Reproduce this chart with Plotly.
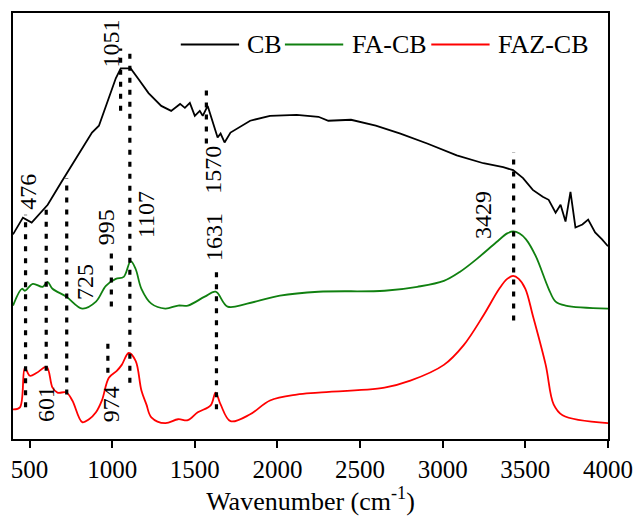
import plotly.graph_objects as go

# ---------------- data (wavenumber, relative intensity) ----------------
cb_x = [400, 460, 513, 610, 693, 726, 800, 878, 920, 980, 1022, 1052, 1112, 1160, 1220,
        1297, 1357, 1411, 1440, 1470, 1500, 1530, 1548, 1578, 1596, 1638, 1656, 1680,
        1716, 1757, 1835, 1955, 2116, 2248, 2308, 2445, 2595, 2744, 2906, 3085, 3246,
        3366, 3426, 3486, 3545, 3605, 3641, 3683, 3713, 3743, 3773, 3803, 3845, 3880,
        3922, 3964, 4000]
cb_y = [207, 224, 219, 237, 260, 269, 289, 310, 317, 345, 365, 375, 375, 364, 350,
        337, 332, 339, 335, 340, 327, 332, 327, 337, 327, 305, 309, 300,
        310, 314, 322, 327, 328, 326, 322, 323, 317, 309, 299, 287, 279,
        275, 272, 264, 252, 245, 242, 229, 237, 220, 250, 214, 217, 222,
        209, 202, 195]

fa_x = [400, 454, 472, 520, 579, 609, 639, 723, 819, 902, 962, 1022, 1070, 1112, 1142,
        1177, 1237, 1321, 1399, 1458, 1560, 1626, 1698, 1817, 2015, 2248, 2648, 2846,
        3007, 3103, 3205, 3324, 3390, 3426, 3465, 3504, 3563, 3641, 3683, 3743, 4000]
fa_y = [135, 152, 150, 157, 154, 159, 152, 144, 132, 139, 155, 162, 164, 180, 172,
        152, 137, 132, 135, 135, 144, 149, 134, 137, 145, 149, 150, 154,
        160, 169, 182, 199, 208, 210, 208, 202, 185, 152, 139, 135, 132]

faz_x = [400, 442, 472, 502, 544, 603, 639, 669, 723, 759, 819, 860, 902, 938, 980,
         1028, 1058, 1100, 1142, 1177, 1207, 1237, 1321, 1399, 1458, 1518, 1596, 1626,
         1656, 1716, 1835, 1955, 2116, 2248, 2648, 2804, 3007, 3127, 3246, 3342, 3390,
         3426, 3460, 3500, 3545, 3623, 3671, 3725, 4000]
faz_y = [30, 32, 72, 64, 67, 73, 52, 47, 47, 39, 17, 20, 27, 39, 62,
         69, 75, 87, 79, 49, 35, 22, 16, 20, 19, 27, 34, 47,
         35, 18, 25, 39, 45, 47, 52, 59, 75, 95, 125, 152, 162,
         165, 162, 152, 125, 75, 35, 24, 16]

series_names = ["CB", "FA-CB", "FAZ-CB"]
peaks = [476, 601, 725, 974, 995, 1051, 1107, 1570, 1631, 3429]
peak_labels = [str(p) for p in peaks]
x_ticks = [500, 1000, 1500, 2000, 2500, 3000, 3500, 4000]

# ---------------- layout / style settings ----------------
colors = ["#000000", "#108010", "#ff0000"]
FONT = "Liberation Serif"

# vertical extent of each dotted marker (in y data units)
seg_range = {476: (32, 227), 601: (69, 239), 725: (45, 264), 974: (67, 102),
             995: (134, 190), 1051: (332, 395), 1107: (57, 394), 1570: (299, 355),
             1631: (30, 169), 3429: (120, 290)}
# label centre positions (x, y in data units)
label_pos = {476: (490, 250), 601: (603, 35), 725: (837, 159), 974: (998, 35),
             995: (968, 214), 1051: (992, 400), 1107: (1201, 227), 1570: (1608, 272),
             1631: (1620, 204), 3429: (3240, 227)}

fig = go.Figure()
for name, xs, ys, c, shape in zip(series_names, [cb_x, fa_x, faz_x], [cb_y, fa_y, faz_y],
                                  colors, ["linear", "spline", "spline"]):
    fig.add_trace(go.Scatter(x=xs, y=ys, mode="lines", name=name, showlegend=False,
                             line=dict(color=c, width=1.8, shape=shape, smoothing=1.0)))

shapes = []
annotations = []
for p, lab in zip(peaks, peak_labels):
    y0, y1 = seg_range[p]
    shapes.append(dict(type="line", xref="x", yref="y", x0=p, x1=p, y0=y0, y1=y1,
                       line=dict(color="black", width=3.2, dash="5px,7px")))
    lx, ly = label_pos[p]
    annotations.append(dict(x=lx, y=ly, xref="x", yref="y", text=lab, textangle=-90,
                            showarrow=False, font=dict(family=FONT, size=24, color="black"),
                            xanchor="center", yanchor="middle"))

# manual legend (paper coordinates)
leg_items = [(0.282, 0.380, 0.390), (0.457, 0.555, 0.566), (0.703, 0.801, 0.812)]
for (xa, xb, xt), name, c in zip(leg_items, series_names, colors):
    shapes.append(dict(type="line", xref="paper", yref="paper", x0=xa, x1=xb,
                       y0=0.926, y1=0.926, line=dict(color=c, width=1.8)))
    annotations.append(dict(x=xt, y=0.926, xref="paper", yref="paper", text=name,
                            showarrow=False, xanchor="left", yanchor="middle",
                            font=dict(family=FONT, size=26, color="black")))

fig.update_layout(
    width=644, height=522,
    margin=dict(l=13, r=29, t=11, b=80),
    plot_bgcolor="white", paper_bgcolor="white",
    font=dict(family=FONT, size=24, color="black"),
    shapes=shapes, annotations=annotations,
    xaxis=dict(range=[400, 4000], tickvals=x_ticks, ticks="outside", ticklen=7,
               tickwidth=2, tickcolor="black", showline=True, linewidth=2,
               linecolor="black", mirror=True, showgrid=False, zeroline=False,
               tickfont=dict(family=FONT, size=25),
               title=dict(text="Wavenumber (cm<sup>-1</sup>)", standoff=10,
                          font=dict(family=FONT, size=26))),
    yaxis=dict(range=[0, 431], showticklabels=False, ticks="", showline=True,
               linewidth=2, linecolor="black", mirror=True, showgrid=False,
               zeroline=False),
)

fig.write_html("out.html")
